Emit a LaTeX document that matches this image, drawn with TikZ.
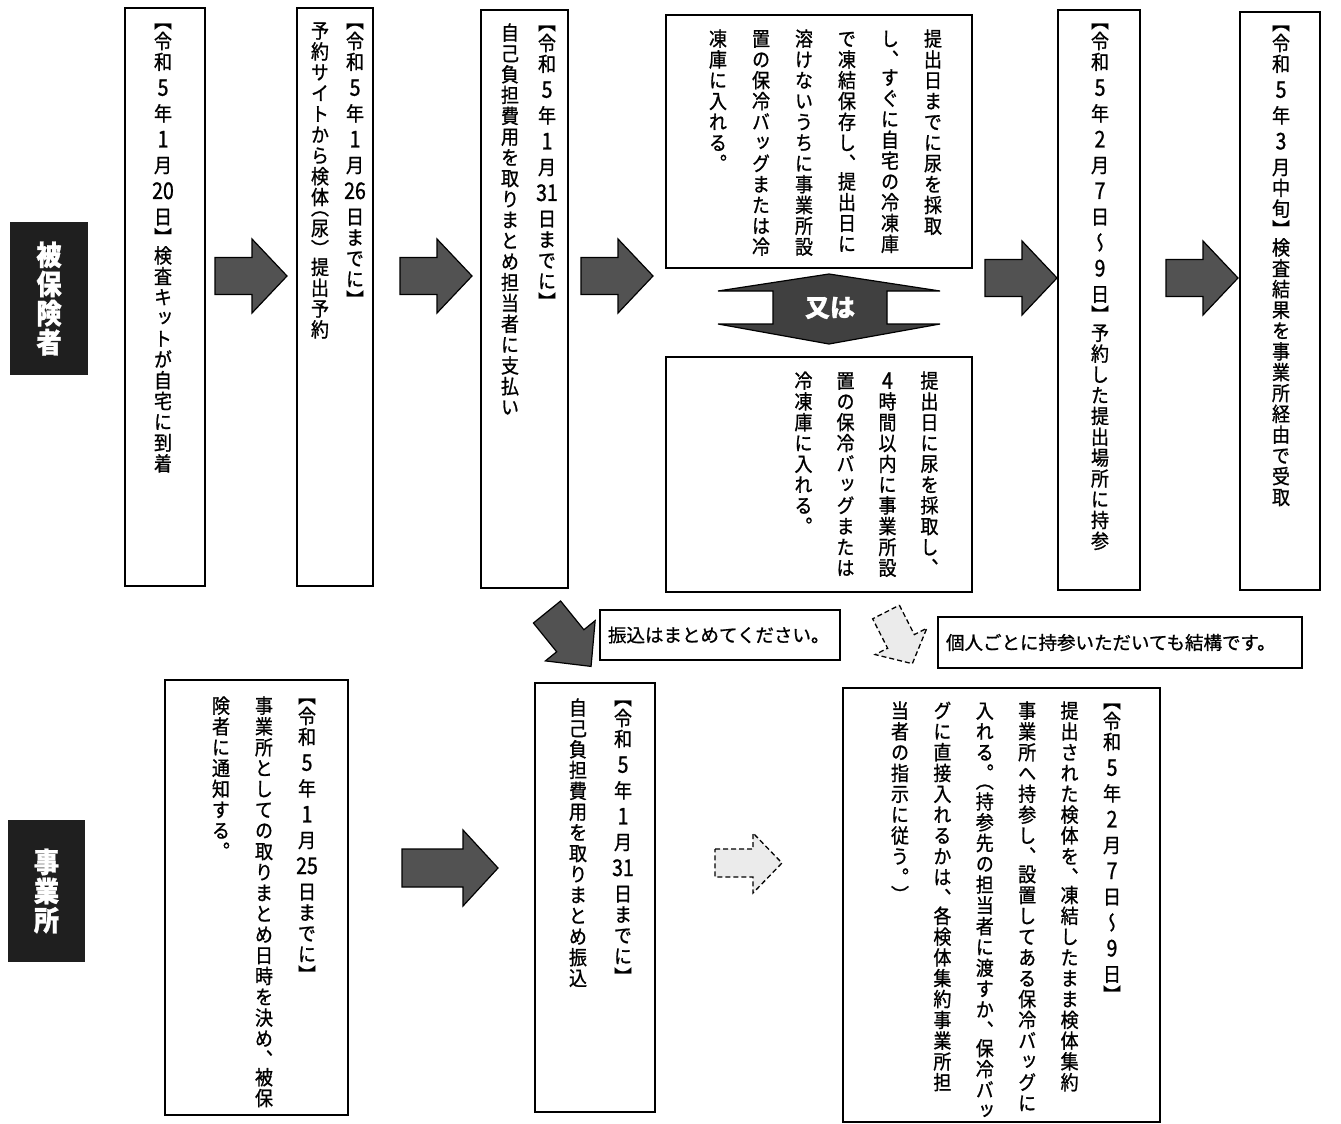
\documentclass[tikz,border=0pt]{standalone}
\usepackage{fontspec}
\usetikzlibrary{positioning}
\setmainfont{Noto Sans CJK JP}
\newfontfamily\jp{Noto Sans CJK JP}[FakeBold=1]
\newfontfamily\vjp{Noto Sans CJK JP}[RawFeature={+vert;embolden=1}, FakeStretch=0.9]
\newfontfamily\vdig{Noto Sans CJK JP}[RawFeature={embolden=1}, FakeStretch=0.85]

% vertical column: one glyph per row, | is a small gap
\newdimen\vcw
\def\vcolend{\vcolend}
\newcommand\vcol[1]{\vtop{\vcw=1em\offinterlineskip
  \hrule height0pt depth0pt width0pt\vcolloop#1\vcolend}}
\def\vcolloop#1{%
  \ifx\vcolend#1\else
    \ifx|#1\vskip5pt\else
      \ifcsname vU#1\endcsname
        \hbox to\vcw{\hss\vrule width0pt height.9em depth-.38em\smash{#1}\hss}%
      \else\ifcsname vL#1\endcsname
        \hbox to\vcw{\hss\vrule width0pt height.38em depth.14em\smash{#1}\hss}%
      \else\ifcsname vD#1\endcsname
        \hbox to\vcw{\hss\vrule width0pt height.9em depth.14em\smash{\lower.03em\hbox{\vdig\fontsize{23}{23}\selectfont#1}}\hss}%
      \else
        \hbox to\vcw{\hss\vrule width0pt height.9em depth.14em\smash{#1}\hss}%
      \fi\fi\fi
    \fi
    \expandafter\vcolloop
  \fi}
\def\halfup#1{\expandafter\def\csname vU#1\endcsname{}}
\def\halflow#1{\expandafter\def\csname vL#1\endcsname{}}
\def\digits#1{\expandafter\def\csname vD#1\endcsname{}}
\halfup{、}\halfup{。}\halfup{）}\halfup{】}
\halflow{（}\halflow{【}
\digits{1}\digits{2}\digits{3}\digits{4}\digits{5}\digits{7}\digits{9}
\digits{20}\digits{25}\digits{26}\digits{31}

% several columns, the first one on the right
\newtoks\vtoks
\newdimen\vcolsep
\def\vtextend{\vtextend}
\newcommand\vtext[2][43]{\vcolsep=\dimexpr#1pt-1em\relax
  \vtoks{}\vtextloop#2\vtextend\hbox{\the\vtoks\unskip}}
\def\vtextloop#1{%
  \ifx\vtextend#1\else
    \edef\vtmp{\unexpanded{\vcol{#1}\hskip\vcolsep}\the\vtoks}%
    \vtoks\expandafter{\vtmp}%
    \expandafter\vtextloop
  \fi}

\begin{document}
\begin{tikzpicture}[x=1pt,y=-1pt,
  pics/blockarr/.style n args={4}{code={
    \path[pic actions] (0,-#2) -- (#1-#4,-#2) -- (#1-#4,-#3) -- (#1,0)
      -- (#1-#4,#3) -- (#1-#4,#2) -- (0,#2) -- cycle;}}]
  \tikzstyle{every node}+=[inner sep=0pt]
  \tikzstyle{panel}=[draw, line width=1.3pt]
  \tikzstyle{vtxt}=[anchor=north, font=\vjp\fontsize{20}{21}\selectfont]
  \tikzstyle{note}=[panel, inner xsep=8pt, align=left, font=\jp\fontsize{18.5}{22}\selectfont]
  \tikzstyle{sidelbl}=[fill=black!88, text=white, font=\vjp\bfseries\fontsize{28}{30}\selectfont]
  \tikzstyle{solidarr}=[fill=black!68, draw=black, line width=1.2pt]
  \tikzstyle{dasharr}=[fill=black!8, draw=black, line width=1.3pt, dash pattern=on 5pt off 3pt]
  \useasboundingbox (0,0) rectangle (1341,1124);

  % side labels
  \node[sidelbl, minimum width=78pt, minimum height=153pt] (hihoken) at (49,298.5) {\vcol{被保険者}};
  \node[sidelbl, minimum width=77pt, minimum height=142pt] (jigyosho) at (46.5,891) {\vcol{事業所}};

  % upper row
  \node[panel, minimum width=80pt, minimum height=578pt] (kit) at (165,297) {};
  \node[vtxt] (kitt) at (163,20) {\vcol{【令和|5|年|1|月|{20}|日】検査キットが自宅に到着}};
  \node[panel, minimum width=76pt, minimum height=578pt] (yoyaku) at (335,297) {};
  \node[vtxt] (yoyakut) at (337.5,20) {\vtext[35]{{【令和|5|年|1|月|{26}|日までに】}{予約サイトから検体（尿）提出予約}}};
  \node[panel, minimum width=87pt, minimum height=578pt] (shiharai) at (524.5,299) {};
  \node[vtxt] (shiharait) at (528.5,22) {\vtext[37]{{【令和|5|年|1|月|{31}|日までに】}{自己負担費用を取りまとめ担当者に支払い}}};
  \node[panel, minimum width=306pt, minimum height=253pt] (saishu) at (819,141.5) {};
  \node[vtxt] (saishut) at (825.5,28) {\vtext{{提出日までに尿を採取}{し、すぐに自宅の冷凍庫}{で凍結保存し、提出日に}{溶けないうちに事業所設}{置の保冷バッグまたは冷}{凍庫に入れる。}}};
  \node[panel, minimum width=306pt, minimum height=235pt] (tojitsu) at (819,474.5) {};
  \node[vtxt] (tojitsut) at (866.5,370) {\vtext[42]{{提出日に尿を採取し、}{4時間以内に事業所設}{置の保冷バッグまたは}{冷凍庫に入れる。}}};
  \node[panel, minimum width=82pt, minimum height=580pt] (jisan) at (1099,300) {};
  \node[vtxt] (jisant) at (1100,20) {\vcol{【令和|5|年|2|月|7|日|～|9|日】予約した提出場所に持参}};
  \node[panel, minimum width=80pt, minimum height=578pt] (kekka) at (1280,301) {};
  \node[vtxt] (kekkat) at (1281,22) {\vcol{【令和|5|年|3|月中旬】検査結果を事業所経由で受取}};

  % 又は
  \draw[fill=black!75, line width=1.2pt] (718,291) -- (829,274) -- (940,291) -- (887,291) -- (887,324)
    -- (940,324) -- (829,344) -- (718,324) -- (773,324) -- (773,291) -- cycle;
  \node[text=white, font=\jp\bfseries\fontsize{25}{28}\selectfont] (mata) at (830,308) {又は};

  % arrows, upper row
  \pic[solidarr] at (215,276) {blockarr={72}{18.5}{37}{35}};
  \pic[solidarr] at (400,276) {blockarr={72}{18.5}{37}{35}};
  \pic[solidarr] at (581,276) {blockarr={72}{18.5}{37}{35}};
  \pic[solidarr] at (985,278) {blockarr={72}{18.5}{37}{35}};
  \pic[solidarr] at (1166,278) {blockarr={72}{18.5}{37}{35}};

  % notes between the rows
  \pic[solidarr, rotate=-51] at (547,612) {blockarr={70}{17.5}{32}{33}};
  \node[note, text width=224pt, minimum height=50pt] (furikomi) at (720,635) {振込はまとめてください。};
  \pic[dasharr, rotate=-63] at (886,612) {blockarr={58}{15}{29}{25}};
  \node[note, text width=348pt, minimum height=51pt] (kojin) at (1120,642.5) {個人ごとに持参いただいても結構です。};

  % lower row
  \node[panel, minimum width=183pt, minimum height=435pt] (tsuchi) at (256.5,897.5) {};
  \node[vtxt] (tsuchit) at (264,695) {\vtext{{【令和|5|年|1|月|{25}|日までに】}{事業所としての取りまとめ日時を決め、被保}{険者に通知する。}}};
  \pic[solidarr] at (402,868) {blockarr={96}{19}{38}{35}};
  \node[panel, minimum width=120pt, minimum height=429pt] (furikomu) at (595,897.5) {};
  \node[vtxt] (furikomut) at (600.5,697) {\vtext[45]{{【令和|5|年|1|月|{31}|日までに】}{自己負担費用を取りまとめ振込}}};
  \pic[dasharr] at (715,863) {blockarr={67}{14}{30}{29}};
  \node[panel, minimum width=317pt, minimum height=434pt] (shuyaku) at (1001.5,905) {};
  \node[vtxt] (shuyakut) at (1006,700) {\vtext[42.4]{{【令和|5|年|2|月|7|日|～|9|日】}{提出された検体を、凍結したまま検体集約}{事業所へ持参し、設置してある保冷バッグに}{入れる。（持参先の担当者に渡すか、保冷バッ}{グに直接入れるかは、各検体集約事業所担}{当者の指示に従う。）}}};
\end{tikzpicture}
\end{document}
